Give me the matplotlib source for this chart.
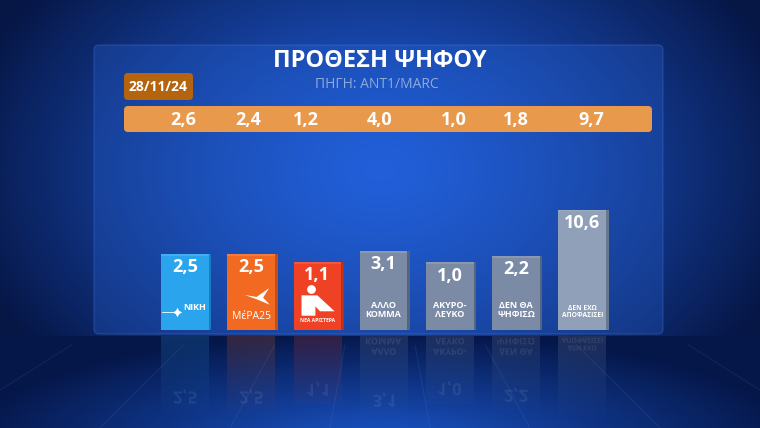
import numpy as np
import matplotlib
matplotlib.use("Agg")
import matplotlib.pyplot as plt
from matplotlib.patches import FancyBboxPatch, Polygon, PathPatch
from matplotlib.textpath import TextPath
from matplotlib.font_manager import FontProperties
from matplotlib.transforms import Affine2D
from matplotlib.colors import to_rgb

plt.rcParams['font.family'] = ['Open Sans', 'DejaVu Sans']

# data
parties = ["ΝΙΚΗ", "ΜέΡΑ25", "ΝΕΑ ΑΡΙΣΤΕΡΑ", "ΑΛΛΟ\nΚΟΜΜΑ", "ΑΚΥΡΟ-\nΛΕΥΚΟ", "ΔΕΝ ΘΑ\nΨΗΦΙΣΩ", "ΔΕΝ ΕΧΩ\nΑΠΟΦΑΣΙΣΕΙ"]
current = [2.5, 2.5, 1.1, 3.1, 1.0, 2.2, 10.6]
previous = [2.6, 2.4, 1.2, 4.0, 1.0, 1.8, 9.7]
prev_date = "28/11/24"
title = "ΠΡΟΘΕΣΗ ΨΗΦΟΥ"
source = "ΠΗΓΗ: ANT1/MARC"

front = ["#2ba4ee", "#f26a22", "#ef4124", "#7b8ba5", "#7b8ba5", "#7b8ba5", "#8fa0b8"]
side = ["#1b7cc4", "#c24f16", "#c02e18", "#56657e", "#56657e", "#56657e", "#68788f"]
prev_x = [183, 248, 306, 380, 454, 516, 591]  # pixel centres of the top strip values


def fmt(v):
    return f"{v:.1f}".replace(".", ",")


W, H = 760, 428
fig = plt.figure(figsize=(W / 100, H / 100), dpi=100)

# background
bg = fig.add_axes([0, 0, 1, 1])
bg.set_xlim(0, W)
bg.set_ylim(H, 0)
bg.axis("off")
yy, xx = np.mgrid[0:H, 0:W]
top_c = np.array([0x1f, 0x5c, 0xd8]) / 255
edge_c = np.array([0x06, 0x16, 0x45]) / 255
d = np.sqrt(((xx - 380) / 430) ** 2 + ((yy - 170) / 300) ** 2)
t = np.clip(d, 0, 1)[..., None] ** 1.3
img = top_c * (1 - t) + edge_c * t
floor = yy >= 336
df = np.sqrt(((xx - 380) / 420) ** 2 + ((yy - 440) / 110) ** 2)
tf = np.clip(df, 0, 1)[..., None] ** 1.0
fimg = np.array([0x1a, 0x55, 0xc8]) / 255 * (1 - tf) + np.array([0x05, 0x16, 0x48]) / 255 * tf
img = np.where(floor[..., None], fimg, img)
bg.imshow(img, extent=(0, W, H, 0), aspect="auto", zorder=0)

# floor perspective lines
for bx in [-250, -60, 100, 230, 330, 430, 530, 660, 820, 1010]:
    vx, vy = 380, 150
    y0 = 345
    x0 = vx + (bx - vx) * (y0 - vy) / (H - vy)
    bg.plot([x0, bx], [y0, H], color="#7aa6f5", alpha=0.10, lw=0.8, zorder=1)

# panel
panel = FancyBboxPatch((94, 45), 569, 289, boxstyle="round,pad=0,rounding_size=5",
                       facecolor="#2a68dc", edgecolor="#5a8ff0", alpha=0.28, lw=0.8, zorder=2)
bg.add_patch(panel)

# titles
bg.text(380, 61, title, ha="center", va="center", color="white", fontsize=17,
        fontweight="bold", zorder=5)
bg.text(377, 84, source, ha="center", va="center", color="#8eaada", fontsize=10, zorder=5)

# date badge and strip
bg.add_patch(FancyBboxPatch((124, 73), 69, 27, boxstyle="round,pad=0,rounding_size=4",
                            facecolor="#b4640f", edgecolor="none", zorder=4))
bg.text(158.5, 87, prev_date, ha="center", va="center", color="white", fontsize=10,
        fontweight="bold", zorder=5)
bg.add_patch(FancyBboxPatch((124, 106), 528, 26, boxstyle="round,pad=0,rounding_size=4",
                            facecolor="#e9994b", edgecolor="none", zorder=4))
for px, v in zip(prev_x, previous):
    bg.text(px, 119.5, fmt(v), ha="center", va="center", color="white",
            fontsize=13, fontweight="bold", zorder=5)

# bars
base = 11.3  # visual offset of the bar floor, value units
ppu = 5.5    # pixels per value unit
x = np.arange(len(current))
left_px, step = 185 - 66.2 / 2, 66.2
ax = fig.add_axes([left_px / W, (H - 330) / H, step * 7 / W, 130 / H])
ax.set_xlim(-0.5, 6.5)
ax.set_ylim(-base, 130 / ppu - base)
ax.axis("off")
vals = np.array(current)
ax.bar(x + 0.36, vals + base, bottom=-base, width=0.08, color=side, zorder=2)
ax.bar(x, vals + base, bottom=-base, width=0.72, color=front, zorder=3)
ax.bar(x, 0.35, bottom=vals - 0.35, width=0.72, color="white", alpha=0.12, zorder=4)
for i, v in enumerate(current):
    ax.annotate(fmt(v), (i, v), xytext=(0, -3), textcoords="offset points",
                ha="center", va="top", color="white", fontsize=13, fontweight="bold", zorder=5)
for i in range(3, 7):
    fs = 6.5 if i < 6 else 4.8
    ax.annotate(parties[i], (i, -base), xytext=(0, 8), textcoords="offset points",
                ha="center", va="bottom", color="white", fontsize=fs, fontweight="bold",
                linespacing=1.05, zorder=5)

# party logos (simplified)
ax.annotate(parties[0], (0.14, -base), xytext=(0, 13), textcoords="offset points",
            ha="center", va="bottom", color="white", fontsize=6.5, fontweight="bold", zorder=5)
ax.plot([-0.34, -0.1], [-base + 3.3, -base + 3.3], color="white", lw=0.6, zorder=5)
ax.scatter([-0.12], [-base + 3.3], marker=(4, 1, 0), s=45, color="white", lw=0, zorder=5)
ax.annotate(parties[1], (1, -base), xytext=(0, 6), textcoords="offset points",
            ha="center", va="bottom", color="white", fontsize=7.5, zorder=5)
ax.add_patch(Polygon([[0.9, -base + 6.4], [1.08, -base + 6.0], [1.27, -base + 7.6],
                      [1.18, -base + 5.9], [1.28, -base + 4.6], [1.1, -base + 5.5]],
                     closed=True, color="white", lw=0, zorder=5))
ax.annotate(parties[2], (2, -base), xytext=(0, 5), textcoords="offset points",
            ha="center", va="bottom", color="white", fontsize=3.6, fontweight="bold", zorder=5)
ax.scatter([1.9], [-base + 7.4], s=40, color="white", lw=0, zorder=5)
ax.add_patch(Polygon([[1.76, -base + 6.3], [2.0, -base + 6.3], [2.26, -base + 3.4],
                      [2.04, -base + 3.4], [1.97, -base + 4.3], [1.97, -base + 2.6],
                      [1.76, -base + 2.6]], closed=True, color="white", lw=0, zorder=5))

# reflection, fading downwards
rh = (H - 336) / ppu
rf = fig.add_axes([left_px / W, 0, step * 7 / W, (H - 336) / H])
rf.set_xlim(-0.5, 6.5)
rf.set_ylim(-base + rh, -base)
rf.axis("off")
refl = rf.bar(x, vals + base, bottom=-base, width=0.72, color="none")
fade = np.linspace(1, 0, 120)[:, None] ** 1.4
for rect, c in zip(refl, front):
    rgba = np.zeros((120, 2, 4))
    rgba[..., :3] = to_rgb(c)
    rgba[..., 3] = 0.2 * fade
    im = rf.imshow(rgba, extent=(-0.5, 6.5, -base + rh, -base), origin="upper",
                   aspect="auto", zorder=1)
    im.set_clip_path(rect)
rf.set_xlim(-0.5, 6.5)
rf.set_ylim(-base + rh, -base)

# mirrored value labels (bg y axis points down, so a text path drawn in it is flipped)
fp = FontProperties(family=["Open Sans", "DejaVu Sans"], weight="bold")
for i, v in enumerate(current):
    tp = TextPath((0, 0), fmt(v), size=17, prop=fp)
    ext = tp.get_extents()
    cx = left_px + step * (i + 0.5)
    top_px = 330 - (v + base) * ppu
    ty = 664 - (top_px + 4)
    tr = Affine2D().translate(cx - ext.width / 2 - ext.x0, ty - ext.height)
    bg.add_patch(PathPatch(tr.transform_path(tp), facecolor="white", edgecolor="none",
                           alpha=0.08, zorder=3))
# mirrored bottom labels of the grey bars
for i in range(3, 7):
    fs = 9 if i < 6 else 6.7
    cx = left_px + step * (i + 0.5)
    for j, line in enumerate(parties[i].split("\n")):
        tp = TextPath((0, 0), line, size=fs, prop=fp)
        ext = tp.get_extents()
        ty = 338 + (1 - j) * fs * 1.15
        tr = Affine2D().translate(cx - ext.width / 2 - ext.x0, ty)
        bg.add_patch(PathPatch(tr.transform_path(tp), facecolor="white", edgecolor="none",
                               alpha=0.1, zorder=3))

fig.savefig("out.png", dpi=100)
